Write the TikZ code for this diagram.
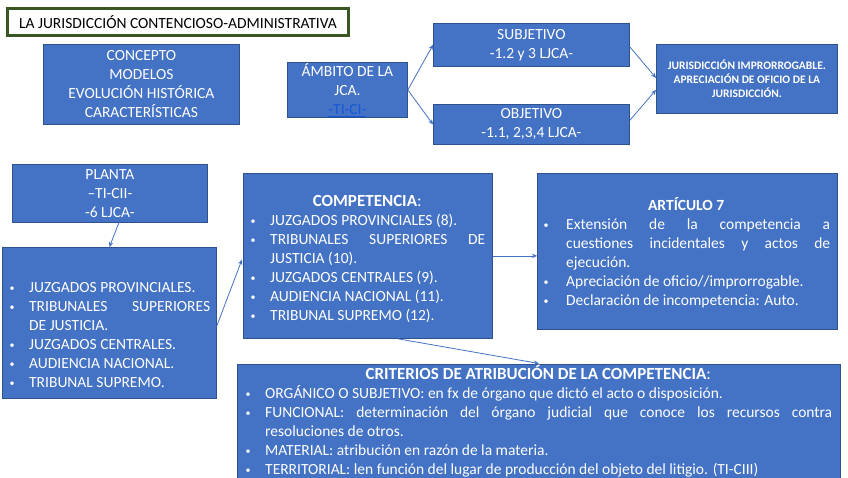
\documentclass[tikz,border=0pt]{standalone}
\usepackage{fontspec}
\setmainfont{Carlito}
\usetikzlibrary{arrows.meta,calc}
\definecolor{boxblue}{HTML}{4472C4}
\definecolor{boxedge}{HTML}{2F528F}
\definecolor{titlegreen}{HTML}{385723}
\definecolor{linkblue}{RGB}{22,88,215}
\newcommand{\bitem}[1]{\par\noindent\hangindent=#1\hangafter=1\hbox to #1{\hskip1.5pt\raisebox{1.2pt}{\fontsize{10}{10}\selectfont •}\hfil}\ignorespaces}
\newcommand{\headline}[1]{\noindent\hbox to \hsize{\hfil\strut#1\hfil}}
\begin{document}
\begin{tikzpicture}[x=1pt,y=-1pt,
  box/.style={draw=boxedge, line width=0.8pt, fill=boxblue, text=white, anchor=north west,
    inner sep=0pt, align=center, font=\fontsize{15.5}{19}\selectfont},
  lst/.style={anchor=north west, inner sep=0pt, text=white, align=justify,
    font=\fontsize{15.5}{19}\selectfont},
  conn/.style={draw=boxblue, line width=0.8pt, -{Stealth[length=5pt,width=4.5pt]}}]
\useasboundingbox (0,0) rectangle (848,477);
\clip (0,0) rectangle (848,477);
\fill[white] (0,0) rectangle (848,477);

% title
\node[box, draw=titlegreen, line width=3pt, fill=white, text=black,
  minimum width=341pt, minimum height=27pt] (title) at (6,7)
  {LA JURISDICCIÓN CONTENCIOSO-ADMINISTRATIVA};

% top row
\node[box, minimum width=196pt, minimum height=80pt] (concept) at (43,44)
  {CONCEPTO\\MODELOS\\EVOLUCIÓN HISTÓRICA\\CARACTERÍSTICAS};
\node[box, minimum width=120pt, minimum height=55pt] (ambito) at (287,62)
  {ÁMBITO DE LA\\JCA.\\{\color{linkblue}\underline{-TI-CI-}}};
\node[box, minimum width=196pt, minimum height=43pt] (subj) at (433,23)
  {SUBJETIVO\\-1.2 y 3 LJCA-};
\node[box, minimum width=196pt, minimum height=40pt] (obj) at (433,104)
  {OBJETIVO\\-1.1, 2,3,4 LJCA-};
\node[box, minimum width=181pt, minimum height=69pt,
  font=\bfseries\fontsize{11.5}{14}\selectfont] (juris) at (656,44)
  {JURISDICCIÓN IMPRORROGABLE.\\APRECIACIÓN DE OFICIO DE LA\\JURISDICCIÓN.};

% planta
\node[box, minimum width=195pt, minimum height=58pt] (planta) at (12,164)
  {PLANTA\\–TI-CII-\\-6 LJCA-};

% organos list
\node[box, minimum width=214pt, minimum height=151pt] (organos) at (2,247) {};
\node[lst, text width=202pt] (organostxt) at (8,273.7) {%
\bitem{21pt}\strut JUZGADOS PROVINCIALES.
\bitem{21pt}TRIBUNALES SUPERIORES\linebreak DE JUSTICIA.
\bitem{21pt}JUZGADOS CENTRALES.
\bitem{21pt}AUDIENCIA NACIONAL.
\bitem{21pt}TRIBUNAL SUPREMO.\par};

% competencia
\node[box, minimum width=249pt, minimum height=165pt] (comp) at (243,173) {};
\node[lst, text width=236pt] (comptxt) at (249,192.7) {%
\headline{\fontsize{17}{19}\selectfont\bfseries COMPETENCIA\mdseries:}\par
\bitem{21pt}JUZGADOS PROVINCIALES (8).
\bitem{21pt}TRIBUNALES SUPERIORES DE\linebreak JUSTICIA (10).
\bitem{21pt}JUZGADOS CENTRALES (9).
\bitem{21pt}AUDIENCIA NACIONAL (11).
\bitem{21pt}TRIBUNAL SUPREMO (12).\par};

% articulo 7
\node[box, minimum width=300pt, minimum height=156pt] (art) at (537,173) {};
\node[lst, text width=288pt] (arttxt) at (542,196.7) {%
\headline{\bfseries ARTÍCULO 7}\par
\bitem{24pt}Extensión de la competencia a\linebreak cuestiones incidentales y actos de\linebreak ejecución.
\bitem{24pt}Apreciación de oficio//improrrogable.
\bitem{24pt}Declaración de incompetencia: Auto.\par};

% criterios
\node[box, minimum width=603pt, minimum height=130pt] (crit) at (237,364) {};
\node[lst, text width=588pt] (crittxt) at (244,365.2) {%
\headline{\fontsize{17}{19}\selectfont\bfseries CRITERIOS DE ATRIBUCIÓN DE LA COMPETENCIA\mdseries:}\par
\bitem{21pt}ORGÁNICO O SUBJETIVO: en fx de órgano que dictó el acto o disposición.
\bitem{21pt}FUNCIONAL: determinación del órgano judicial que conoce los recursos contra\linebreak resoluciones de otros.
\bitem{21pt}MATERIAL: atribución en razón de la materia.
\bitem{21pt}TERRITORIAL: len función del lugar de producción del objeto del litigio. (TI-CIII)\par};

% connectors
\draw[conn] (ambito.east) -- (subj.west);
\draw[conn] (ambito.east) -- (obj.west);
\draw[conn] ($(subj.east)+(0,2)$) -- ($(juris.west)+(0,-1)$);
\draw[conn] ($(obj.east)+(0,-4)$) -- ($(juris.west)+(0,11)$);
\draw[conn] ($(planta.south)+(9,0)$) -- (organos.north);
\draw[conn, shorten >=3pt] ($(organos.east)+(0,3)$) -- ($(comp.west)+(0,1)$);
\draw[conn] (comp.east) -- (comp.east -| art.west);
\draw[conn, shorten >=3pt] ($(comp.south)+(30,0)$) -- ($(crit.north)+(3,0)$);
\end{tikzpicture}
\end{document}
